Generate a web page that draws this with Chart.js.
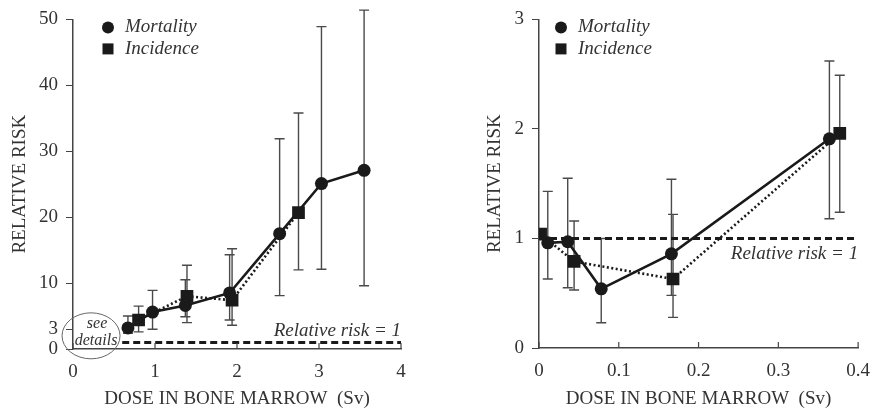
<!DOCTYPE html>
<html>
<head>
<meta charset="utf-8">
<script src="https://cdn.jsdelivr.net/npm/chart.js@4.4.1/dist/chart.umd.min.js"></script>
<style>
body { margin: 0; background: #fff; }
.panel { position: absolute; top: 0; width: 441px; height: 410px; }
</style>
</head>
<body>
<div class="panel" style="left:0"><canvas id="leftChart" width="441" height="410"></canvas></div>
<div class="panel" style="left:441px"><canvas id="rightChart" width="441" height="410"></canvas></div>
<script>
// left panel: whole dose range (Sv)
const mortDoseA = [0.67, 0.97, 1.37, 1.91, 2.52, 3.03, 3.55];
const mortRiskA = [3.2, 5.6, 6.6, 8.5, 17.5, 25.1, 27.1];
const mortLowA  = [2.4, 3.0, 4.9, 4.4, 8.1, 12.1, 9.6];
const mortHighA = [5.0, 8.9, 10.5, 14.3, 31.9, 48.9, 51.4];

const incDoseA = [0.80, 1.39, 1.94, 2.75];
const incRiskA = [4.4, 8.0, 7.4, 20.7];
const incLowA  = [2.6, 4.0, 3.6, 12.0];
const incHighA = [6.5, 12.7, 15.2, 35.8];

const xTicksA = [0, 1, 2, 3, 4];
const yTicksA = [0, 3, 10, 20, 30, 40, 50];

// right panel: low doses detail
const mortDoseB = [0.011, 0.036, 0.078, 0.166, 0.364];
const mortRiskB = [0.96, 0.97, 0.54, 0.86, 1.91];
const mortLowB  = [0.63, 0.55, 0.23, 0.48, 1.18];
const mortHighB = [1.43, 1.55, 1.0, 1.54, 2.62];

const incDoseB = [0.002, 0.044, 0.168, 0.377];
const incRiskB = [1.04, 0.79, 0.63, 1.96];
const incLowB  = [null, 0.53, 0.28, 1.24];
const incHighB = [null, 1.16, 1.22, 2.49];

const xTicksB = [0, 0.1, 0.2, 0.3, 0.4];
const yTicksB = [0, 1, 2, 3];

const ink = '#1a1a1a';
const textCol = '#333';
const serif = '"Liberation Serif", "DejaVu Serif", serif';

function pts(xs, ys) {
    return xs.map((x, i) => ({ x: x, y: ys[i] }));
}

// error bars, legend and labels drawn on top of the library scales
const decorPlugin = {
    id: 'decor',
    beforeDatasetsDraw(chart) {
        const ctx = chart.ctx;
        const ys = chart.scales.y;
        ctx.save();
        ctx.strokeStyle = '#4a4a4a';
        ctx.lineWidth = 1.4;
        chart.data.datasets.forEach((ds, di) => {
            if (!ds.errLow) return;
            const meta = chart.getDatasetMeta(di);
            meta.data.forEach((el, i) => {
                if (ds.errLow[i] == null) return;
                const x = el.x;
                const y1 = ys.getPixelForValue(ds.errLow[i]);
                const y2 = ys.getPixelForValue(ds.errHigh[i]);
                ctx.beginPath();
                ctx.moveTo(x, y1); ctx.lineTo(x, y2);
                ctx.moveTo(x - 5, y1); ctx.lineTo(x + 5, y1);
                ctx.moveTo(x - 5, y2); ctx.lineTo(x + 5, y2);
                ctx.stroke();
            });
        });
        ctx.restore();
    },
    afterDraw(chart, args, opts) {
        const ctx = chart.ctx;
        const area = chart.chartArea;
        const xs = chart.scales.x;
        const ys = chart.scales.y;
        ctx.save();

        // inward tick marks on the dose axis
        ctx.strokeStyle = '#444';
        ctx.lineWidth = 1.2;
        xs.ticks.forEach(t => {
            const px = xs.getPixelForValue(t.value);
            ctx.beginPath();
            ctx.moveTo(px, area.bottom);
            ctx.lineTo(px, area.bottom - 6);
            ctx.stroke();
        });

        // legend
        const lx = area.left + opts.legendDx;
        const ly = area.top + 8;
        ctx.fillStyle = ink;
        ctx.beginPath();
        ctx.arc(lx, ly, 6, 0, Math.PI * 2);
        ctx.fill();
        ctx.fillRect(lx - 5.5, ly + 16, 11, 11);
        ctx.fillStyle = textCol;
        ctx.font = 'italic 19px ' + serif;
        ctx.textBaseline = 'middle';
        ctx.textAlign = 'left';
        ctx.fillText('Mortality', lx + 17, ly);
        ctx.fillText('Incidence', lx + 17, ly + 22);

        // reference line label
        ctx.font = 'italic 19px ' + serif;
        ctx.textAlign = 'right';
        ctx.fillText('Relative risk = 1', area.right, ys.getPixelForValue(1) + opts.refLabelDy);

        // "see details" circle
        if (opts.seeDetails) {
            const cx = xs.getPixelForValue(opts.seeDetails.x);
            const cy = ys.getPixelForValue(opts.seeDetails.y);
            ctx.strokeStyle = '#666';
            ctx.lineWidth = 1;
            ctx.beginPath();
            ctx.ellipse(cx, cy, 29, 23, 0, 0, Math.PI * 2);
            ctx.stroke();
            ctx.font = 'italic 16px ' + serif;
            ctx.textAlign = 'center';
            ctx.fillStyle = textCol;
            ctx.fillText('see', cx + 6, cy - 12);
            ctx.fillText('details', cx + 5, cy + 5);
        }
        ctx.restore();
    }
};

function makeChart(canvasId, cfg) {
    const datasets = [
        {
            label: 'Relative risk = 1',
            data: pts(cfg.refX, [1, 1]),
            borderColor: ink,
            borderWidth: 3,
            borderDash: [7, 4],
            pointRadius: 0
        },
        {
            label: 'Incidence',
            data: pts(cfg.incDose, cfg.incRisk),
            errLow: cfg.incLow,
            errHigh: cfg.incHigh,
            borderColor: ink,
            borderWidth: 2.6,
            borderDash: [2, 2.5],
            pointStyle: 'rect',
            pointRadius: 9,
            pointBackgroundColor: ink,
            pointBorderWidth: 0
        },
        {
            label: 'Mortality',
            data: pts(cfg.mortDose, cfg.mortRisk),
            errLow: cfg.mortLow,
            errHigh: cfg.mortHigh,
            borderColor: ink,
            borderWidth: 2.6,
            pointStyle: 'circle',
            pointRadius: 6.5,
            pointBackgroundColor: ink,
            pointBorderWidth: 0
        }
    ];

    return new Chart(document.getElementById(canvasId).getContext('2d'), {
        type: 'line',
        data: { datasets: datasets },
        options: {
            responsive: false,
            animation: false,
            layout: { padding: cfg.padding },
            plugins: {
                legend: { display: false },
                tooltip: { enabled: false },
                decor: cfg.decor
            },
            scales: {
                x: {
                    type: 'linear',
                    min: cfg.xTicks[0],
                    max: cfg.xTicks[cfg.xTicks.length - 1],
                    afterBuildTicks: s => { s.ticks = cfg.xTicks.map(v => ({ value: v })); },
                    afterFit: s => { s.height = cfg.xHeight; },
                    grid: { display: false, drawTicks: false },
                    border: { display: true, color: '#444', width: 1.5 },
                    ticks: { color: textCol, padding: 12, font: { family: serif, size: 19 } },
                    title: {
                        display: true,
                        text: 'DOSE IN BONE MARROW  (Sv)',
                        color: textCol,
                        font: { family: serif, size: 19 },
                        padding: { top: 0, bottom: 0 }
                    }
                },
                y: {
                    type: 'linear',
                    min: cfg.yTicks[0],
                    max: cfg.yTicks[cfg.yTicks.length - 1],
                    afterBuildTicks: s => { s.ticks = cfg.yTicks.map(v => ({ value: v })); },
                    afterFit: s => { s.width = cfg.yWidth; },
                    grid: { drawOnChartArea: false, drawTicks: true, tickLength: 7, color: '#444' },
                    border: { display: true, color: '#444', width: 1.5 },
                    ticks: { color: textCol, padding: 8, font: { family: serif, size: 19 } },
                    title: {
                        display: true,
                        text: 'RELATIVE RISK',
                        color: textCol,
                        font: { family: serif, size: 19 },
                        padding: { top: cfg.yTitlePad, bottom: 0 }
                    }
                }
            }
        },
        plugins: [decorPlugin]
    });
}

makeChart('leftChart', {
    mortDose: mortDoseA, mortRisk: mortRiskA, mortLow: mortLowA, mortHigh: mortHighA,
    incDose: incDoseA, incRisk: incRiskA, incLow: incLowA, incHigh: incHighA,
    refX: [0.6, 4],
    xTicks: xTicksA, yTicks: yTicksA,
    padding: { top: 16, right: 40, left: 0, bottom: 0 },
    xHeight: 61, yWidth: 73, yTitlePad: 9,
    decor: { legendDx: 35, refLabelDy: -11, seeDetails: { x: 0.22, y: 2 } }
});

makeChart('rightChart', {
    mortDose: mortDoseB, mortRisk: mortRiskB, mortLow: mortLowB, mortHigh: mortHighB,
    incDose: incDoseB, incRisk: incRiskB, incLow: incLowB, incHigh: incHighB,
    refX: [0, 0.4],
    xTicks: xTicksB, yTicks: yTicksB,
    padding: { top: 14, right: 16, left: 0, bottom: 0 },
    xHeight: 62, yWidth: 98, yTitlePad: 43,
    decor: { legendDx: 22, refLabelDy: 16, seeDetails: null }
});
</script>
</body>
</html>
